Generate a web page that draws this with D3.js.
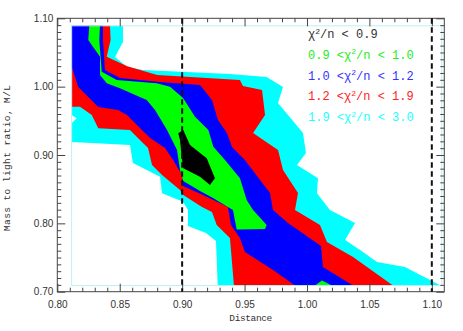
<!DOCTYPE html>
<html>
<head>
<meta charset="utf-8">
<script src="https://cdn.jsdelivr.net/npm/d3@7"></script>
<style>
body { margin: 0; background: #fff; }
.tick text { font-family: "Liberation Sans", sans-serif; font-size: 10px; fill: #333; }
.tick line { stroke: #444; }
.axis-title { font-family: "Liberation Mono", monospace; font-size: 9.5px; fill: #333; }
.legend { font-family: "Liberation Mono", monospace; font-size: 12px; }
</style>
</head>
<body>
<div id="chart"></div>
<script>
const width = 463, height = 331;
const margin = {top: 18.3, right: 18.7, bottom: 39.3, left: 57.3};

// axis ranges and tick labels
const xDomain = [0.80, 1.11];
const yDomain = [0.70, 1.10];
const xTicks = [0.80, 0.85, 0.90, 0.95, 1.00, 1.05, 1.10];
const yTicks = [0.70, 0.80, 0.90, 1.00, 1.10];
const dashedAt = [0.90, 1.10];

// extent of the fitted grid
const gridX = [0.8115, 1.108];
const gridY = [0.709, 1.089];

// contour regions, [distance, M/L], outermost first
const cyanRegion = [
  [0.8115,1.089],[0.8526,1.089],[0.8526,1.0653],[0.8462,1.0434],[0.8558,1.0292],
  [0.8686,1.0244],[0.9383,1.0185],[0.9677,1.0141],[0.9808,0.9995],[0.9768,0.9761],
  [0.9968,0.9322],[0.9992,0.9029],[0.9920,0.8854],[1.0088,0.8659],[1.0080,0.8439],
  [1.0184,0.8195],[1.0385,0.8005],[1.0305,0.7757],[1.0425,0.7610],[1.0561,0.7435],
  [1.0785,0.7362],[1.107,0.709],[0.9285,0.709],[0.9271,0.7742],[0.9191,0.7859],
  [0.9047,0.7961],[0.9047,0.8195],[0.9007,0.8317],[0.8839,0.8439],[0.8823,0.8683],
  [0.8638,0.8854],[0.8606,0.8883],[0.8582,0.9146],[0.8115,0.9190],[0.8115,0.9464],
  [0.8155,0.9537],[0.8115,0.9585]
];
const redRegion = [
  [0.8115,1.089],[0.8422,1.089],[0.8427,1.0683],[0.8396,1.0438],[0.8560,1.0300],
  [0.8800,1.0170],[0.9463,1.0097],[0.9487,1.0010],[0.9640,0.9951],[0.9664,0.9585],
  [0.9568,0.9322],[0.9768,0.9073],[0.9808,0.8781],[0.9928,0.8444],[0.9904,0.8195],
  [1.0104,0.7976],[1.0160,0.7727],[1.0369,0.7508],[1.0689,0.709],[0.9415,0.709],
  [0.9383,0.7786],[0.9277,0.7976],[0.9239,0.8166],[0.9159,0.8239],[0.9009,0.8415],
  [0.8983,0.8488],[0.8839,0.8707],[0.8759,0.8854],[0.8727,0.9102],[0.8662,0.9220],
  [0.8582,0.9366],[0.8328,0.9390],[0.8276,0.9585],[0.8182,0.9707],[0.8115,0.9707]
];
const blueRegion = [
  [0.8115,1.089],[0.8366,1.089],[0.8366,1.0683],[0.8382,1.0244],[0.8502,1.0127],
  [0.8823,1.0068],[0.9143,1.0024],[0.9239,0.9805],[0.9287,0.9512],[0.9359,0.9322],
  [0.9399,0.9117],[0.9503,0.8927],[0.9624,0.8634],[0.9704,0.8444],[0.9728,0.8195],
  [0.9848,0.8005],[1.0112,0.7669],[1.0128,0.7362],[1.0369,0.709],[0.9904,0.709],
  [0.9728,0.7318],[0.9503,0.7581],[0.9463,0.7786],[0.9391,0.7976],[0.9367,0.8239],
  [0.9167,0.8415],[0.9007,0.8547],[0.8999,0.8707],[0.8927,0.8927],[0.8863,0.9102],
  [0.8743,0.9249],[0.8662,0.9395],[0.8558,0.9585],[0.8486,0.9658],[0.8328,0.9702],
  [0.8248,0.9849],[0.8168,0.9995],[0.8115,1.0292]
];
const greenRegion = [
  [0.8256,1.089],[0.8342,1.089],[0.8336,1.0683],[0.8356,1.0219],[0.8476,1.0097],
  [0.8796,1.0049],[0.8903,0.9999],[0.9009,0.9829],[0.9103,0.9560],[0.9210,0.9366],
  [0.9250,0.9121],[0.9343,0.8927],[0.9463,0.8659],[0.9517,0.8342],[0.9568,0.8195],
  [0.9677,0.7976],[0.9664,0.7917],[0.9437,0.7910],[0.9407,0.8195],[0.9247,0.8371],
  [0.9143,0.8474],[0.9009,0.8620],[0.8983,0.8781],[0.8959,0.9073],[0.8879,0.9366],
  [0.8783,0.9658],[0.8716,0.9805],[0.8502,0.9976],[0.8396,1.0049],[0.8342,1.0170],
  [0.8342,1.0438],[0.8248,1.0683]
];
const greenPatch = [
  [1.0064,0.709],[1.0120,0.7164],[1.0200,0.709]
];
const blackRegion = [
  [0.8969,0.9317],[0.9009,0.9366],[0.9063,0.9146],[0.9197,0.8952],[0.9263,0.8659],
  [0.9223,0.8561],[0.9143,0.8683],[0.9009,0.8805],[0.8996,0.8975],[0.8983,0.9220]
];

const regions = [cyanRegion, redRegion, blueRegion, greenRegion, greenPatch, blackRegion];
const regionColors = ["#00ffff", "#ff0000", "#0000ff", "#00ff00", "#00ff00", "#000000"];

// legend
const legendLow = [null, "0.9", "1.0", "1.2", "1.9"];
const legendHigh = ["0.9", "1.0", "1.2", "1.9", "3.0"];
const legendColors = ["#333333", "#22ee22", "#3333ff", "#ff2222", "#22ffff"];

const svg = d3.select('#chart')
  .append('svg')
  .attr('width', width)
  .attr('height', height);

svg.append('rect').attr('width', width).attr('height', height).attr('fill', '#fff');

const x = d3.scaleLinear().domain(xDomain).range([margin.left, width - margin.right]);
const y = d3.scaleLinear().domain(yDomain).range([height - margin.bottom, margin.top]);

const line = d3.line()
  .x(d => x(d[0]))
  .y(d => y(d[1]))
  .curve(d3.curveLinearClosed);

const graph = svg.append('g');

graph.selectAll('path')
  .data(regions)
  .enter()
  .append('path')
  .attr('d', d => line(d))
  .attr('fill', (d, i) => regionColors[i])
  .attr('stroke', 'none');

// thin outline of the grid
graph.append('rect')
  .attr('x', x(gridX[0]))
  .attr('y', y(gridY[1]))
  .attr('width', x(gridX[1]) - x(gridX[0]))
  .attr('height', y(gridY[0]) - y(gridY[1]))
  .attr('fill', 'none')
  .attr('stroke', '#bdeff2')
  .attr('stroke-width', 1);

// axes, ticks inside
const xMinor = d3.range(80, 111).map(d => d / 100).filter(v => !xTicks.some(t => Math.abs(t - v) < 1e-6));
const yMinor = d3.range(70, 111).map(d => d / 100).filter(v => !yTicks.some(t => Math.abs(t - v) < 1e-6));

function addAxis(axisFn, scale, major, minor, transform, labels, pad) {
  const g = svg.append('g').attr('transform', transform);
  g.call(axisFn(scale).tickValues(major).tickSizeInner(-8).tickSizeOuter(0).tickPadding(pad)
    .tickFormat(labels ? d3.format('.2f') : ''));
  g.select('.domain').remove();
  const m = svg.append('g').attr('transform', transform);
  m.call(axisFn(scale).tickValues(minor).tickSizeInner(-4).tickSizeOuter(0).tickFormat(''));
  m.select('.domain').remove();
}

const x0 = x.range()[0], x1 = x.range()[1];
const y0 = y.range()[0], y1 = y.range()[1];

addAxis(d3.axisBottom, x, xTicks, xMinor, `translate(0,${y0})`, true, 9.5);
addAxis(d3.axisTop, x, xTicks, xMinor, `translate(0,${y1})`, false, 3);
addAxis(d3.axisLeft, y, yTicks, yMinor, `translate(${x0},0)`, true, 4);
addAxis(d3.axisRight, y, yTicks, yMinor, `translate(${x1},0)`, false, 3);

svg.append('rect')
  .attr('x', x0).attr('y', y1)
  .attr('width', x1 - x0).attr('height', y0 - y1)
  .attr('fill', 'none')
  .attr('stroke', '#444')
  .attr('stroke-width', 1);

// dashed reference lines
svg.selectAll('.ref')
  .data(dashedAt)
  .enter()
  .append('line')
  .attr('class', 'ref')
  .attr('x1', d => x(d)).attr('x2', d => x(d))
  .attr('y1', y1).attr('y2', y0)
  .attr('stroke', '#111')
  .attr('stroke-width', 2)
  .attr('stroke-dasharray', '5.5,3.5');

// axis titles
svg.append('text')
  .attr('class', 'axis-title')
  .attr('x', (x0 + x1) / 2)
  .attr('y', 320.5)
  .attr('text-anchor', 'middle')
  .attr('textLength', 43)
  .text('Distance');

svg.append('text')
  .attr('class', 'axis-title')
  .attr('transform', `translate(10.3,${(y0 + y1) / 2 + 3}) rotate(-90)`)
  .attr('text-anchor', 'middle')
  .attr('textLength', 146)
  .text('Mass to light ratio, M/L');

// legend
const legend = svg.append('g').attr('class', 'legend');
legendHigh.forEach((hi, i) => {
  const t = legend.append('text')
    .attr('x', 308)
    .attr('y', 38 + i * 20.8)
    .attr('fill', legendColors[i]);
  if (legendLow[i]) t.append('tspan').text(legendLow[i] + ' <');
  t.append('tspan').text('χ');
  t.append('tspan').attr('dy', -4.5).attr('font-size', '8px').text('2');
  t.append('tspan').attr('dy', 4.5).text('/n < ' + hi);
});
</script>
</body>
</html>
